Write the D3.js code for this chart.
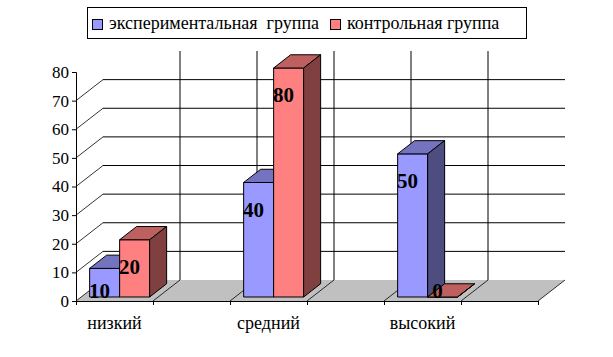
<!DOCTYPE html>
<html>
<head>
<meta charset="utf-8">
<script src="https://cdn.jsdelivr.net/npm/d3@7"></script>
</head>
<body style="margin:0">
<svg width="613" height="357"></svg>
<script>
// chart data
var categories = ["низкий", "", "средний", "", "высокий", ""];
var seriesNames = ["экспериментальная  группа", "контрольная группа"];
var experimental = [10, null, 40, null, 50, null];
var control = [20, null, 80, null, 0, null];
var yTicks = [0, 10, 20, 30, 40, 50, 60, 70, 80];

var seriesValues = [experimental, control];
var colors = [
  { front: "#9999ff", top: "#7373bf", side: "#4d4d80" },
  { front: "#ff8080", top: "#bf6060", side: "#804040" }
];
var serif = "Liberation Serif";

var svg = d3.select("svg").style("font-family", serif);

var x = d3.scaleBand().domain(d3.range(categories.length)).range([76, 538]);
var xEdge = d3.scaleLinear().domain([0, categories.length]).range([76, 538]);
var x1 = d3.scaleBand().domain([0, 1]).range([8.5, 68.5]);
var y = d3.scaleLinear().domain([0, 80]).range([301, 72]);
// depth of the 3d box
var dzx = d3.scaleLinear().domain([0, 1]).range([0, 27]);
var dzy = d3.scaleLinear().domain([0, 1]).range([0, -21]);

function project(px, v, z) {
  return [px + dzx(z), y(v) + dzy(z)];
}
var line = d3.line();

// floor
var g = svg.append("g");
g.append("path")
  .attr("d", line([project(76, 0, 0), project(538, 0, 0), project(538, 0, 1), project(76, 0, 1)]) + "Z")
  .attr("fill", "#c0c0c0");

// back wall grid
g.selectAll(".hgrid")
  .data(yTicks.filter(function (d) { return d > 0 && d < 80; }))
  .enter()
  .append("path")
  .attr("d", function (d) { return line([project(76, d, 1), project(538, d, 1)]); })
  .attr("stroke", "#000")
  .attr("fill", "none");

g.selectAll(".diag")
  .data(yTicks.filter(function (d) { return d < 80; }))
  .enter()
  .append("path")
  .attr("d", function (d) { return line([project(76, d, 0), project(76, d, 1)]); })
  .attr("stroke", "#000")
  .attr("stroke-width", 0.8)
  .attr("fill", "none");

g.selectAll(".vgrid")
  .data(d3.range(1, categories.length))
  .enter()
  .append("path")
  .attr("d", function (d) { return line([project(xEdge(d), 0, 1), project(xEdge(d), 80, 1)]); })
  .attr("stroke", "#000")
  .attr("fill", "none");

g.selectAll(".fgrid")
  .data(d3.range(1, categories.length + 1))
  .enter()
  .append("path")
  .attr("d", function (d) { return line([project(xEdge(d), 0, 0), project(xEdge(d), 0, 1)]); })
  .attr("stroke", "#000")
  .attr("stroke-width", 0.8)
  .attr("fill", "none");

// axes
var yAxis = svg.append("g")
  .attr("transform", "translate(76,0)")
  .call(d3.axisLeft(y).tickValues(yTicks).tickSize(4).tickPadding(3))
  .attr("font-family", null)
  .attr("font-size", null);
yAxis.selectAll("text")
  .attr("fill", "#000")
  .style("font-family", serif)
  .style("font-size", "17px");

svg.append("g")
  .attr("transform", "translate(0,301)")
  .call(d3.axisBottom(xEdge).tickValues(d3.range(categories.length + 1)).tickSize(4).tickFormat(""));

var xLabels = svg.append("g")
  .attr("transform", "translate(0,301)")
  .call(d3.axisBottom(x).tickSize(0).tickPadding(15).tickFormat(function (i) { return categories[i]; }))
  .attr("font-family", null)
  .attr("font-size", null);
xLabels.select(".domain").remove();
xLabels.selectAll("text")
  .attr("fill", "#000")
  .style("font-family", serif)
  .style("font-size", "18px");

svg.selectAll(".domain, .tick line").attr("stroke", "#000");

// bars
var z0 = 0.19, z1 = 0.82;
var bars = [];
categories.forEach(function (c, i) {
  seriesValues.forEach(function (vals, s) {
    if (vals[i] != null) bars.push({ i: i, s: s, v: vals[i] });
  });
});

var bar = svg.append("g").selectAll("g")
  .data(bars)
  .enter()
  .append("g");

function face(d, which) {
  var x0 = x(d.i) + x1(d.s), w = x1.bandwidth();
  var pts;
  if (which == "front") pts = [project(x0, 0, z0), project(x0 + w, 0, z0), project(x0 + w, d.v, z0), project(x0, d.v, z0)];
  if (which == "top") pts = [project(x0, d.v, z0), project(x0 + w, d.v, z0), project(x0 + w, d.v, z1), project(x0, d.v, z1)];
  if (which == "side") pts = [project(x0 + w, 0, z0), project(x0 + w, 0, z1), project(x0 + w, d.v, z1), project(x0 + w, d.v, z0)];
  return line(pts) + "Z";
}

["front", "top", "side"].forEach(function (f) {
  bar.append("path")
    .attr("d", function (d) { return face(d, f); })
    .attr("fill", function (d) { return colors[d.s][f]; })
    .attr("stroke", "#000")
    .attr("stroke-width", 1)
    .attr("stroke-linejoin", "round");
});

// value labels
svg.append("g").selectAll("text")
  .data(bars)
  .enter()
  .append("text")
  .attr("x", function (d) { return x(d.i) + x1(d.s) + x1.bandwidth() / 2; })
  .attr("y", function (d) {
    var base = project(0, 0, z0)[1];
    var top = project(0, d.v, z0)[1];
    return Math.min(top + 27, base - 6);
  })
  .attr("dy", "0.35em")
  .attr("text-anchor", "middle")
  .style("font-family", serif)
  .style("font-size", "21px")
  .style("font-weight", "bold")
  .text(function (d) { return d.v; });

// legend
var legend = svg.append("g");
legend.append("rect")
  .attr("x", 87.5).attr("y", 7.5)
  .attr("width", 439).attr("height", 31)
  .attr("fill", "#fff").attr("stroke", "#000");

var lx = 92;
seriesNames.forEach(function (name, s) {
  legend.append("rect")
    .attr("x", lx + 0.5).attr("y", 19.5)
    .attr("width", 10).attr("height", 10)
    .attr("fill", colors[s].front).attr("stroke", "#000");
  var t = legend.append("text")
    .attr("x", lx + 17).attr("y", 29)
    .style("font-family", serif)
    .style("font-size", "18px")
    .style("white-space", "pre")
    .text(name);
  lx = lx + 17 + t.node().getComputedTextLength() + 11;
});
</script>
</body>
</html>
